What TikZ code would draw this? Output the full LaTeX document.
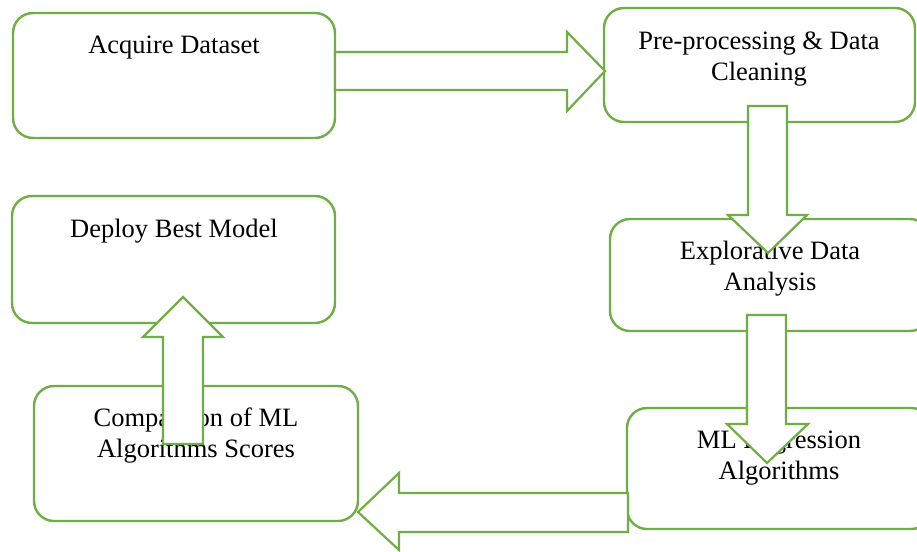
\documentclass[tikz,border=0pt]{standalone}
\usepackage{fontspec}
\setmainfont{Liberation Serif}
\definecolor{grn}{HTML}{70AD47}
\begin{document}
\begin{tikzpicture}[x=1pt,y=-1pt,
  box/.style={draw=grn, line width=2.4pt, rounded corners=20pt, fill=white, inner sep=0pt, rectangle},
  lbl/.style={font=\fontsize{26.5}{31}\selectfont, align=center, inner sep=0pt, anchor=base, text=black},
  barrow/.style={draw=grn, line width=2.2pt, fill=white, line join=miter}]
\useasboundingbox (0,0) rectangle (917,551);
\clip (0,0) rectangle (917,551);
% boxes
\node[box, minimum width=322pt, minimum height=125pt] (b1) at (174,75.5) {};
\node[box, minimum width=311pt, minimum height=114pt] (b2) at (759.5,65) {};
\node[box, minimum width=320pt, minimum height=112pt] (b3) at (770,275) {};
\node[box, minimum width=304pt, minimum height=121pt] (b4) at (779,468.5) {};
\node[box, minimum width=324pt, minimum height=135pt] (b5) at (196,453.5) {};
\node[box, minimum width=323pt, minimum height=127pt] (b6) at (173.5,259.5) {};
% labels (multi-line nodes: base is the last line)
\node[lbl] (t1) at (174,54) {Acquire Dataset};
\node[lbl] (t2) at (759,80) {Pre-processing \& Data\\Cleaning};
\node[lbl] (t3) at (770,290) {Explorative Data\\Analysis};
\node[lbl] (t4) at (779,479) {ML Regression\\Algorithms};
\node[lbl] (t5) at (196,457) {Comparison of ML\\Algorithms Scores};
\node[lbl] (t6) at (174,237) {Deploy Best Model};
% block arrows
\draw[barrow] (335,52) -- (567,52) -- (567,32) -- (605,71) -- (567,111) -- (567,90) -- (335,90) -- cycle;
\draw[barrow] (748,106) -- (787,106) -- (787,215) -- (807,215) -- (768,253) -- (728,215) -- (748,215) -- cycle;
\draw[barrow] (747,315) -- (786,315) -- (786,424) -- (808,424) -- (767,463) -- (727,424) -- (747,424) -- cycle;
\draw[barrow] (628,493) -- (399,493) -- (399,473) -- (358,512) -- (399,550) -- (399,532) -- (628,532) -- cycle;
\draw[barrow] (163,444) -- (163,337) -- (143,337) -- (183,297) -- (223,337) -- (203,337) -- (203,444) -- cycle;
\end{tikzpicture}
\end{document}
